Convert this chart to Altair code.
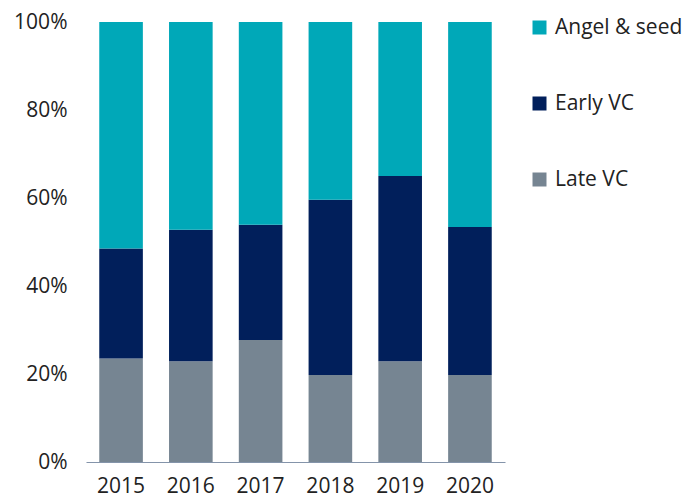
import altair as alt
import pandas as pd

years = ["2015", "2016", "2017", "2018", "2019", "2020"]
late_vc = [23.5, 22.9, 27.7, 19.8, 22.9, 19.8]
early_vc = [25.0, 29.9, 26.2, 39.8, 42.1, 33.6]
angel_seed = [51.5, 47.2, 46.1, 40.4, 35.0, 46.6]

series = ["Angel & seed", "Early VC", "Late VC"]
colors = ["#00A8B8", "#011F5B", "#768592"]
stack_order = {"Late VC": 0, "Early VC": 1, "Angel & seed": 2}

rows = []
for i, y in enumerate(years):
    for name, vals in (("Late VC", late_vc), ("Early VC", early_vc), ("Angel & seed", angel_seed)):
        rows.append({"year": y, "series": name, "value": vals[i], "ord": stack_order[name]})
df = pd.DataFrame(rows)

FONT = "Open Sans"

chart = alt.Chart(df).mark_bar().encode(
    x=alt.X("year:N", title=None,
            scale=alt.Scale(paddingInner=0.375, paddingOuter=0.19),
            axis=alt.Axis(labelAngle=0, ticks=False, domainColor="#8494AA",
                          domainWidth=1.2, labelPadding=13)),
    y=alt.Y("value:Q", stack="normalize", title=None,
            scale=alt.Scale(domain=[0, 1]),
            axis=alt.Axis(format=".0%", values=[0, 0.2, 0.4, 0.6, 0.8, 1.0],
                          grid=False, ticks=False, domain=False, labelPadding=19)),
    color=alt.Color("series:N",
                    scale=alt.Scale(domain=series, range=colors),
                    legend=alt.Legend(title=None, symbolType="square", symbolSize=196,
                                      symbolStrokeWidth=0, rowPadding=54,
                                      orient="none", legendX=443, legendY=-5,
                                      labelFontSize=21, labelFont=FONT, labelColor="#222222",
                                      labelOffset=5, labelLimit=300)),
    order=alt.Order("ord:Q", sort="ascending"),
).properties(
    width=419, height=440,
    padding={"left": 5, "top": 3, "right": 0, "bottom": 3},
).configure_view(
    stroke=None
).configure_axis(
    labelFont=FONT, labelFontSize=21, labelColor="#222222"
)

chart.save("out.html", embed_options={"renderer": "svg", "actions": False})
